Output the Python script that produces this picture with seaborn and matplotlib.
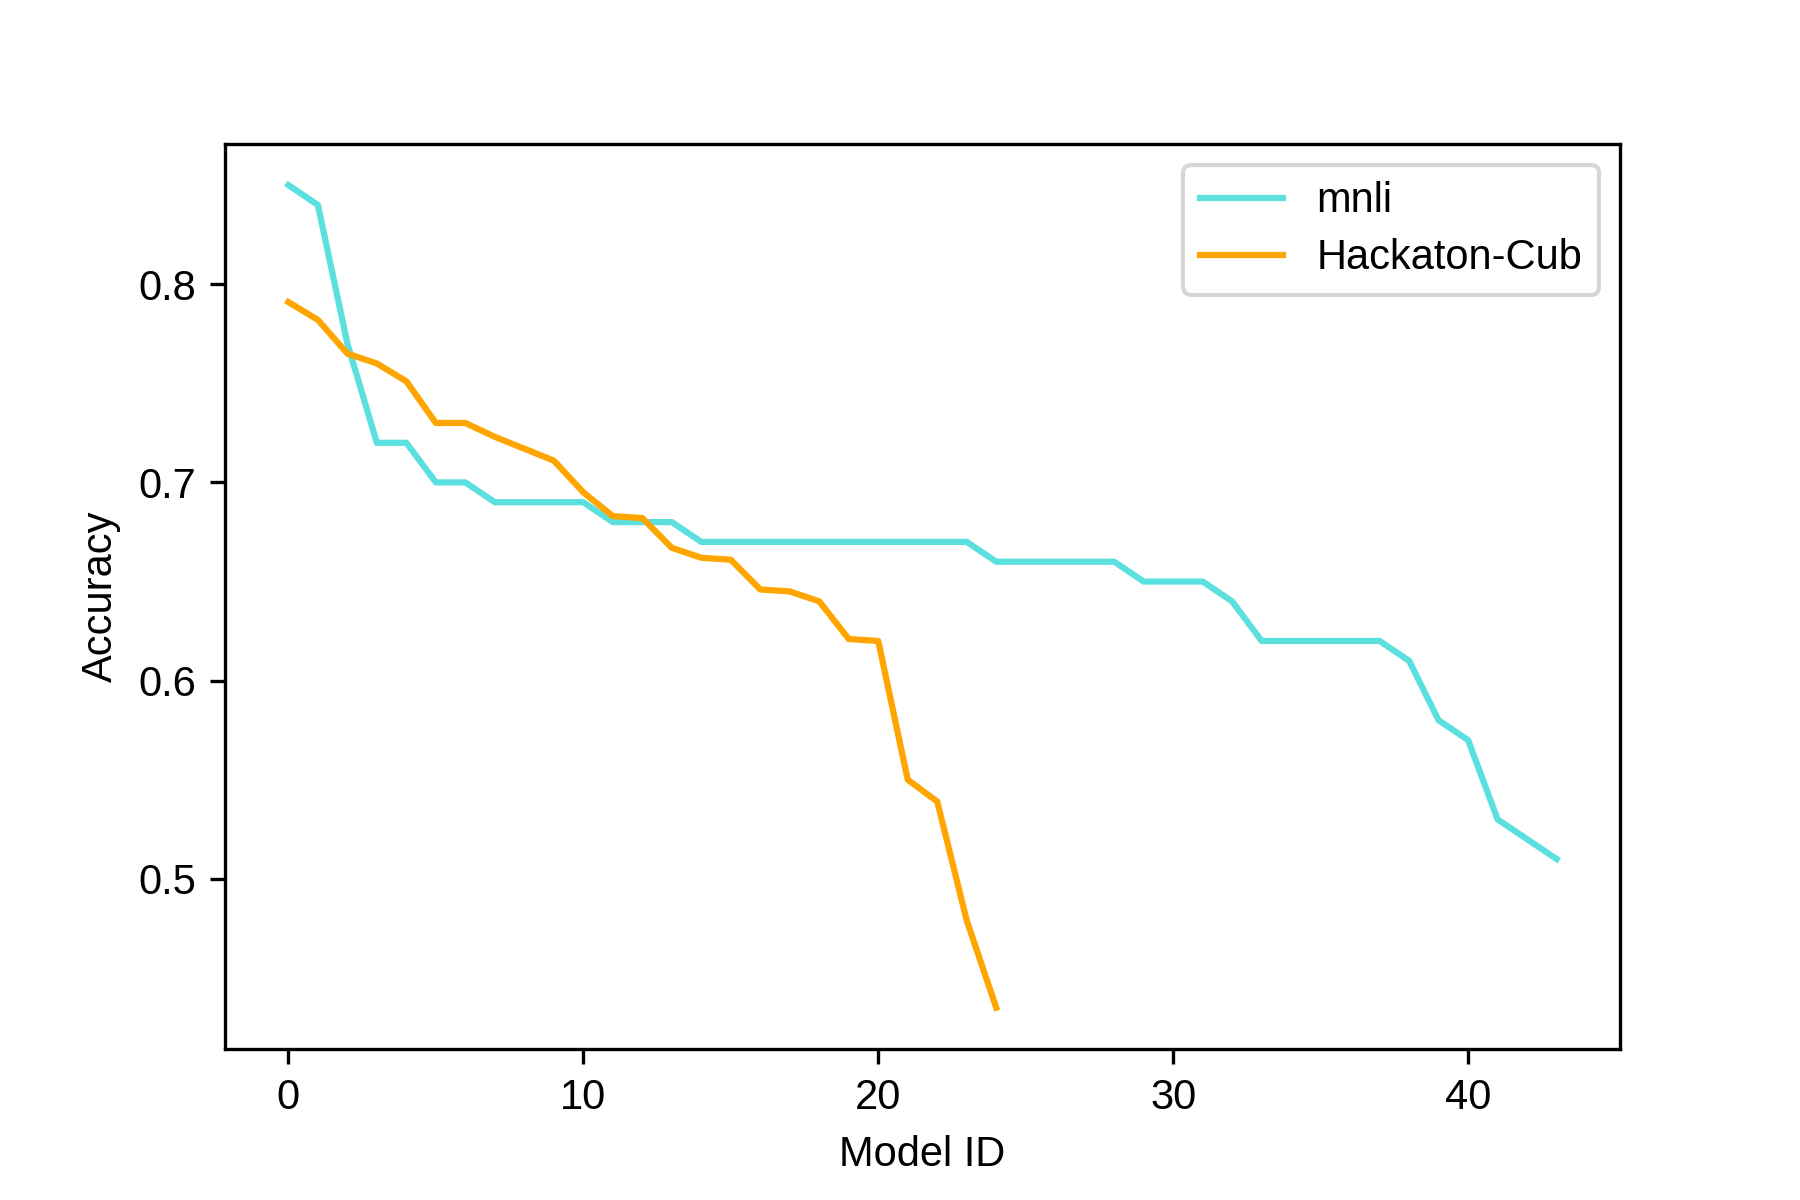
import pandas as pd
import matplotlib
matplotlib.use("Agg")
import matplotlib.pyplot as plt
import seaborn as sns

plt.rcParams['font.family'] = ['Liberation Sans', 'DejaVu Sans']

# accuracy per model, sorted descending
mnli_acc = [0.85, 0.84, 0.77, 0.72, 0.72, 0.70, 0.70, 0.69, 0.69, 0.69,
            0.69, 0.68, 0.68, 0.68, 0.67, 0.67, 0.67, 0.67, 0.67, 0.67,
            0.67, 0.67, 0.67, 0.67, 0.66, 0.66, 0.66, 0.66, 0.66, 0.65,
            0.65, 0.65, 0.64, 0.62, 0.62, 0.62, 0.62, 0.62, 0.61, 0.58,
            0.57, 0.53, 0.52, 0.51]
cub_acc = [0.791, 0.782, 0.765, 0.760, 0.751, 0.730, 0.730, 0.723, 0.717, 0.711,
           0.695, 0.683, 0.682, 0.667, 0.662, 0.661, 0.646, 0.645, 0.640, 0.621,
           0.620, 0.550, 0.539, 0.479, 0.435]

mnli = pd.DataFrame({'model_id': range(len(mnli_acc)), 'accuracy': mnli_acc})
cub = pd.DataFrame({'model_id': range(len(cub_acc)), 'accuracy': cub_acc})

fig, ax = plt.subplots(figsize=(6, 4), dpi=300)
sns.lineplot(data=mnli, x='model_id', y='accuracy', color='#5bdfdf', linewidth=1.5, label='mnli', ax=ax)
sns.lineplot(data=cub, x='model_id', y='accuracy', color='orange', linewidth=1.5, label='Hackaton-Cub', ax=ax)

ax.set_xlabel('Model ID')
ax.set_ylabel('Accuracy')
ax.set_yticks([0.5, 0.6, 0.7, 0.8])
ax.legend(loc='upper right', labelspacing=0.4)

plt.subplots_adjust(left=0.125, right=0.9, top=0.88, bottom=0.126)
plt.savefig('out.png', dpi=300)
